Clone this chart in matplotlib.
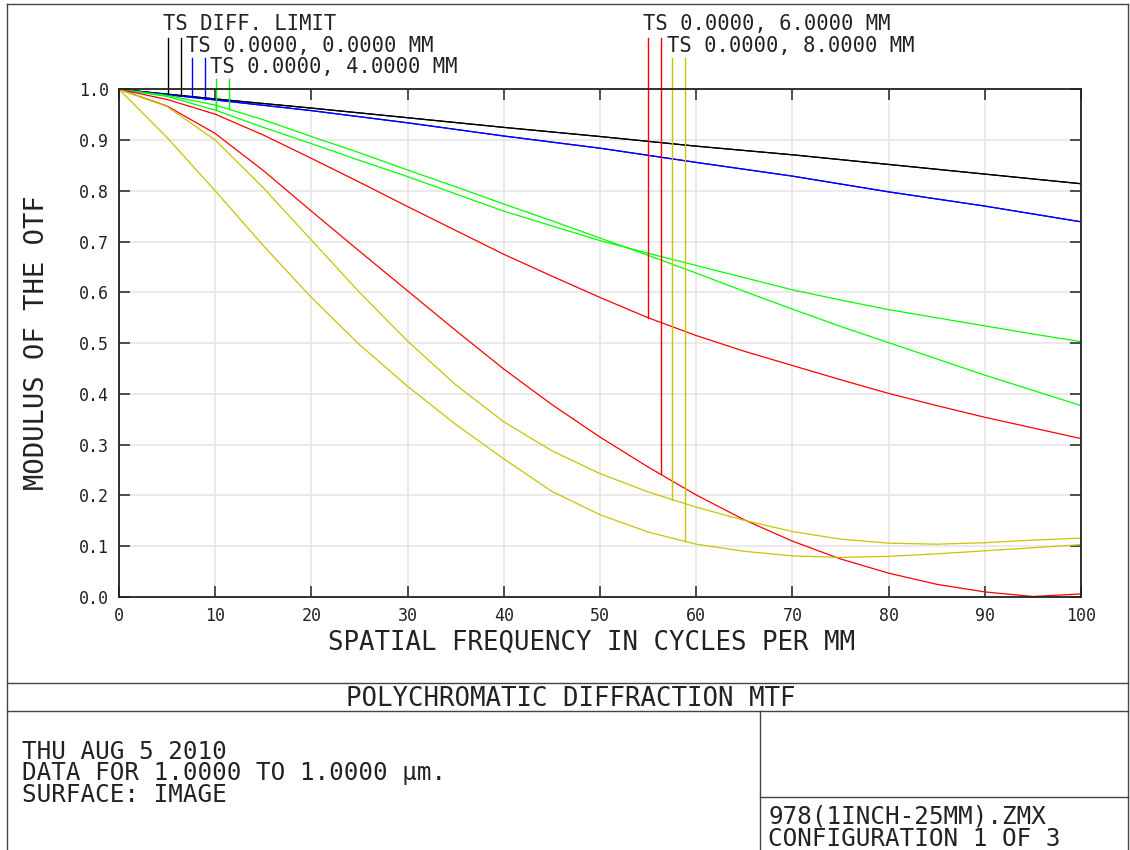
import matplotlib
matplotlib.use("Agg")
import matplotlib.pyplot as plt
import numpy as np
from matplotlib.lines import Line2D

W, H = 1130, 850

freq = [0, 5, 10, 15, 20, 25, 30, 35, 40, 45, 50, 55, 60, 65, 70, 75, 80, 85, 90, 95, 100]
freq10 = [0, 10, 20, 30, 40, 50, 60, 70, 80, 90, 100]

diff_limit = [1.0, 0.981, 0.963, 0.944, 0.925, 0.907, 0.888, 0.871, 0.852, 0.833, 0.814]
field_0 = [1.0, 0.979, 0.958, 0.934, 0.908, 0.884, 0.856, 0.829, 0.798, 0.770, 0.739]

field_4_t = [1.0, 0.986, 0.959, 0.925, 0.893, 0.860, 0.828, 0.794, 0.760, 0.731, 0.702,
             0.677, 0.653, 0.629, 0.605, 0.585, 0.566, 0.550, 0.534, 0.518, 0.503]
field_4_s = [1.0, 0.988, 0.969, 0.940, 0.907, 0.875, 0.841, 0.808, 0.774, 0.741, 0.707,
             0.673, 0.638, 0.602, 0.567, 0.533, 0.501, 0.469, 0.437, 0.407, 0.377]

field_6_t = [1.0, 0.980, 0.951, 0.910, 0.864, 0.817, 0.769, 0.722, 0.675, 0.632, 0.590,
             0.550, 0.515, 0.484, 0.456, 0.428, 0.401, 0.377, 0.354, 0.333, 0.312]
field_6_s = [1.0, 0.967, 0.913, 0.840, 0.760, 0.681, 0.603, 0.525, 0.449, 0.379, 0.315,
             0.256, 0.201, 0.152, 0.110, 0.075, 0.047, 0.025, 0.010, 0.001, 0.006]

field_8_t = [1.0, 0.966, 0.900, 0.806, 0.703, 0.600, 0.504, 0.418, 0.345, 0.288, 0.243,
             0.207, 0.177, 0.151, 0.129, 0.114, 0.106, 0.104, 0.107, 0.112, 0.116]
field_8_s = [1.0, 0.905, 0.800, 0.692, 0.590, 0.497, 0.415, 0.340, 0.272, 0.208, 0.162,
             0.128, 0.104, 0.090, 0.081, 0.078, 0.080, 0.085, 0.091, 0.097, 0.103]

legend_labels = ["TS DIFF. LIMIT", "TS 0.0000, 0.0000 MM", "TS 0.0000, 4.0000 MM",
                 "TS 0.0000, 6.0000 MM", "TS 0.0000, 8.0000 MM"]

xticks = [0, 10, 20, 30, 40, 50, 60, 70, 80, 90, 100]
yticks = [0.0, 0.1, 0.2, 0.3, 0.4, 0.5, 0.6, 0.7, 0.8, 0.9, 1.0]

info_lines = ["THU AUG 5 2010", "DATA FOR 1.0000 TO 1.0000 µm.", "SURFACE: IMAGE"]
file_lines = ["978(1INCH-25MM).ZMX", "CONFIGURATION 1 OF 3"]

FONT = "DejaVu Sans Mono"
plt.rcParams['font.family'] = FONT
TXT = '#222222'

fig = plt.figure(figsize=(W / 100, H / 100), dpi=100)

# pixel helpers (top-left origin)
def fx(px):
    return px / W

def fy(py):
    return 1 - py / H

ax_left, ax_right, ax_top, ax_bot = 119, 1081, 89.3, 597
ax = fig.add_axes([fx(ax_left), fy(ax_bot), (ax_right - ax_left) / W, (ax_bot - ax_top) / H])
ax.set_xlim(0, 100)
ax.set_ylim(0, 1)

def data_y(py):
    return (ax_bot - py) / (ax_bot - ax_top)

curves = [
    (freq10, diff_limit, "black"),
    (freq10, diff_limit, "black"),
    (freq10, field_0, "#0000ff"),
    (freq10, field_0, "#0000ff"),
    (freq, field_4_t, "#00ff00"),
    (freq, field_4_s, "#00ff00"),
    (freq, field_6_t, "#ff0000"),
    (freq, field_6_s, "#ff0000"),
    (freq, field_8_t, "#c8c400"),
    (freq, field_8_s, "#c8c400"),
]

for xs, ys, c in curves:
    ax.plot(xs, ys, color=c, lw=0.9)

# legend marker lines dropping to the curves
legend_x = [5.1, 6.4, 7.6, 8.9, 10.1, 11.4, 55.0, 56.3, 57.5, 58.8]
legend_top = [38, 38, 58, 58, 79, 79, 38, 38, 58, 58]
for (xs, ys, c), lx, top in zip(curves, legend_x, legend_top):
    y_end = np.interp(lx, xs, ys)
    ax.plot([lx, lx], [data_y(top), y_end], color=c, lw=1.0, clip_on=False)

legend_pos = [(163, 30), (186, 52), (210, 73), (643, 30), (667, 52)]
for lab, (px, py) in zip(legend_labels, legend_pos):
    fig.text(fx(px), fy(py), lab, fontsize=14.8, ha='left', va='baseline', color=TXT)

ax.set_xticks(xticks)
ax.set_yticks(yticks)
ax.set_xticklabels([str(t) for t in xticks])
ax.set_yticklabels(["%.1f" % t for t in yticks])
ax.tick_params(direction='in', length=8, width=1.2, colors='#333333', labelcolor=TXT,
               labelsize=12, top=True, right=True, pad=7)
ax.grid(color='#e6e6e6', lw=1.2)
ax.set_axisbelow(True)
for s in ax.spines.values():
    s.set_linewidth(1.3)
    s.set_color('#222222')

fig.text(fx(592), fy(650), "SPATIAL FREQUENCY IN CYCLES PER MM", fontsize=18.5,
         ha='center', va='baseline', color=TXT)
fig.text(fx(37), fy(343), "MODULUS OF THE OTF", fontsize=19.5, rotation=90,
         ha='center', va='center', color=TXT)

# frame and title block
frame_color = '#444444'
frame_lines = [
    ((7, 4), (1128, 4)),
    ((7, 4), (7, 850)),
    ((1128, 4), (1128, 850)),
    ((7, 683), (1128, 683)),
    ((7, 711), (1128, 711)),
    ((760, 711), (760, 850)),
    ((760, 797), (1128, 797)),
]
for (x0, y0), (x1, y1) in frame_lines:
    fig.add_artist(Line2D([fx(x0), fx(x1)], [fy(y0), fy(y1)], color=frame_color, lw=1.0))

fig.text(fx(571), fy(706), "POLYCHROMATIC DIFFRACTION MTF", fontsize=18.5,
         ha='center', va='baseline', color=TXT)

# multi-line blocks: baseline anchors the last line
fig.text(fx(22), fy(802), "\n".join(info_lines), fontsize=17.5, linespacing=0.88,
         ha='left', va='baseline', color=TXT)
fig.text(fx(768), fy(846), "\n".join(file_lines), fontsize=17.5, linespacing=0.94,
         ha='left', va='baseline', color=TXT)

fig.savefig("out.png", dpi=100, facecolor='white')
